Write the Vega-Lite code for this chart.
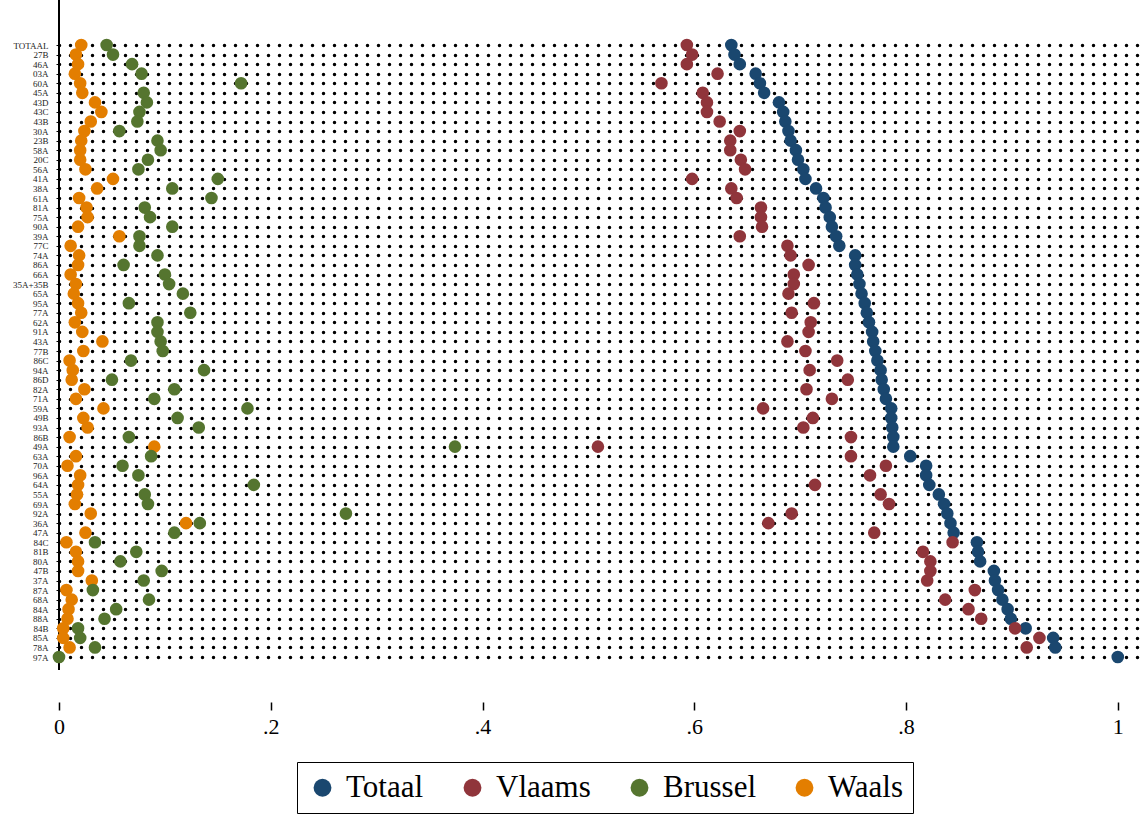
{
  "$schema": "https://vega.github.io/schema/vega-lite/v6.json",
  "autosize": "none",
  "width": 1081,
  "height": 670,
  "padding": {"left": 59, "top": 0, "right": 7, "bottom": 146},
  "background": "white",
  "config": {"view": {"stroke": null}, "font": "Liberation Serif"},
  "data": {"values": [
    {"c":"TOTAAL","Totaal":0.635,"Vlaams":0.593,"Brussel":0.045,"Waals":0.021},
    {"c":"27B","Totaal":0.638,"Vlaams":0.598,"Brussel":0.051,"Waals":0.016},
    {"c":"46A","Totaal":0.643,"Vlaams":0.593,"Brussel":0.069,"Waals":0.018},
    {"c":"03A","Totaal":0.658,"Vlaams":0.622,"Brussel":0.078,"Waals":0.015},
    {"c":"60A","Totaal":0.662,"Vlaams":0.569,"Brussel":0.172,"Waals":0.020},
    {"c":"45A","Totaal":0.666,"Vlaams":0.608,"Brussel":0.080,"Waals":0.022},
    {"c":"43D","Totaal":0.680,"Vlaams":0.612,"Brussel":0.083,"Waals":0.034},
    {"c":"43C","Totaal":0.684,"Vlaams":0.612,"Brussel":0.076,"Waals":0.040},
    {"c":"43B","Totaal":0.686,"Vlaams":0.624,"Brussel":0.074,"Waals":0.030},
    {"c":"30A","Totaal":0.689,"Vlaams":0.643,"Brussel":0.057,"Waals":0.024},
    {"c":"23B","Totaal":0.691,"Vlaams":0.634,"Brussel":0.093,"Waals":0.021},
    {"c":"58A","Totaal":0.696,"Vlaams":0.634,"Brussel":0.096,"Waals":0.020},
    {"c":"20C","Totaal":0.698,"Vlaams":0.644,"Brussel":0.084,"Waals":0.020},
    {"c":"56A","Totaal":0.703,"Vlaams":0.648,"Brussel":0.075,"Waals":0.025},
    {"c":"41A","Totaal":0.705,"Vlaams":0.598,"Brussel":0.150,"Waals":0.051},
    {"c":"38A","Totaal":0.715,"Vlaams":0.635,"Brussel":0.107,"Waals":0.036},
    {"c":"61A","Totaal":0.722,"Vlaams":0.640,"Brussel":0.144,"Waals":0.019},
    {"c":"81A","Totaal":0.724,"Vlaams":0.663,"Brussel":0.081,"Waals":0.026},
    {"c":"75A","Totaal":0.728,"Vlaams":0.663,"Brussel":0.086,"Waals":0.027},
    {"c":"90A","Totaal":0.730,"Vlaams":0.664,"Brussel":0.107,"Waals":0.018},
    {"c":"39A","Totaal":0.734,"Vlaams":0.643,"Brussel":0.076,"Waals":0.057},
    {"c":"77C","Totaal":0.737,"Vlaams":0.688,"Brussel":0.076,"Waals":0.011},
    {"c":"74A","Totaal":0.752,"Vlaams":0.691,"Brussel":0.093,"Waals":0.019},
    {"c":"86A","Totaal":0.752,"Vlaams":0.708,"Brussel":0.061,"Waals":0.018},
    {"c":"66A","Totaal":0.754,"Vlaams":0.694,"Brussel":0.100,"Waals":0.011},
    {"c":"35A+35B","Totaal":0.756,"Vlaams":0.694,"Brussel":0.104,"Waals":0.016},
    {"c":"65A","Totaal":0.758,"Vlaams":0.689,"Brussel":0.117,"Waals":0.014},
    {"c":"95A","Totaal":0.761,"Vlaams":0.713,"Brussel":0.066,"Waals":0.018},
    {"c":"77A","Totaal":0.763,"Vlaams":0.692,"Brussel":0.124,"Waals":0.021},
    {"c":"62A","Totaal":0.765,"Vlaams":0.710,"Brussel":0.093,"Waals":0.015},
    {"c":"91A","Totaal":0.768,"Vlaams":0.708,"Brussel":0.093,"Waals":0.022},
    {"c":"43A","Totaal":0.769,"Vlaams":0.688,"Brussel":0.096,"Waals":0.041},
    {"c":"77B","Totaal":0.771,"Vlaams":0.705,"Brussel":0.098,"Waals":0.023},
    {"c":"86C","Totaal":0.773,"Vlaams":0.735,"Brussel":0.068,"Waals":0.010},
    {"c":"94A","Totaal":0.776,"Vlaams":0.709,"Brussel":0.137,"Waals":0.013},
    {"c":"86D","Totaal":0.777,"Vlaams":0.745,"Brussel":0.050,"Waals":0.012},
    {"c":"82A","Totaal":0.779,"Vlaams":0.706,"Brussel":0.109,"Waals":0.024},
    {"c":"71A","Totaal":0.781,"Vlaams":0.730,"Brussel":0.090,"Waals":0.016},
    {"c":"59A","Totaal":0.786,"Vlaams":0.665,"Brussel":0.178,"Waals":0.042},
    {"c":"49B","Totaal":0.786,"Vlaams":0.712,"Brussel":0.112,"Waals":0.023},
    {"c":"93A","Totaal":0.787,"Vlaams":0.703,"Brussel":0.132,"Waals":0.027},
    {"c":"86B","Totaal":0.788,"Vlaams":0.748,"Brussel":0.066,"Waals":0.010},
    {"c":"49A","Totaal":0.788,"Vlaams":0.509,"Brussel":0.374,"Waals":0.090},
    {"c":"63A","Totaal":0.804,"Vlaams":0.748,"Brussel":0.087,"Waals":0.016},
    {"c":"70A","Totaal":0.819,"Vlaams":0.781,"Brussel":0.060,"Waals":0.008},
    {"c":"96A","Totaal":0.819,"Vlaams":0.766,"Brussel":0.075,"Waals":0.020},
    {"c":"64A","Totaal":0.822,"Vlaams":0.714,"Brussel":0.184,"Waals":0.018},
    {"c":"55A","Totaal":0.831,"Vlaams":0.776,"Brussel":0.081,"Waals":0.017},
    {"c":"69A","Totaal":0.836,"Vlaams":0.784,"Brussel":0.084,"Waals":0.015},
    {"c":"92A","Totaal":0.839,"Vlaams":0.692,"Brussel":0.271,"Waals":0.030},
    {"c":"36A","Totaal":0.842,"Vlaams":0.670,"Brussel":0.133,"Waals":0.120},
    {"c":"47A","Totaal":0.845,"Vlaams":0.770,"Brussel":0.109,"Waals":0.025},
    {"c":"84C","Totaal":0.867,"Vlaams":0.844,"Brussel":0.034,"Waals":0.007},
    {"c":"81B","Totaal":0.868,"Vlaams":0.816,"Brussel":0.073,"Waals":0.016},
    {"c":"80A","Totaal":0.870,"Vlaams":0.823,"Brussel":0.058,"Waals":0.018},
    {"c":"47B","Totaal":0.883,"Vlaams":0.823,"Brussel":0.097,"Waals":0.018},
    {"c":"37A","Totaal":0.884,"Vlaams":0.820,"Brussel":0.080,"Waals":0.031},
    {"c":"87A","Totaal":0.887,"Vlaams":0.865,"Brussel":0.032,"Waals":0.007},
    {"c":"68A","Totaal":0.891,"Vlaams":0.837,"Brussel":0.085,"Waals":0.012},
    {"c":"84A","Totaal":0.896,"Vlaams":0.859,"Brussel":0.054,"Waals":0.009},
    {"c":"88A","Totaal":0.899,"Vlaams":0.871,"Brussel":0.043,"Waals":0.008},
    {"c":"84B","Totaal":0.913,"Vlaams":0.903,"Brussel":0.018,"Waals":0.004},
    {"c":"85A","Totaal":0.939,"Vlaams":0.926,"Brussel":0.020,"Waals":0.004},
    {"c":"78A","Totaal":0.941,"Vlaams":0.914,"Brussel":0.034,"Waals":0.010},
    {"c":"97A","Totaal":1.0,"Vlaams":null,"Brussel":0.0,"Waals":null}
  ]},
  "transform": [
    {"fold": ["Totaal", "Vlaams", "Brussel", "Waals"], "as": ["reeks", "waarde"]},
    {"filter": "isValid(datum.waarde)"}
  ],
  "encoding": {
    "y": {
      "field": "c", "type": "nominal", "sort": null,
      "scale": {"type": "point", "padding": 0, "range": [45, 657]},
      "axis": {
        "title": null, "labelFont": "Liberation Serif", "labelFontSize": 9, "labelColor": "#222",
        "domain": false, "tickColor": "black", "tickSize": 3, "labelPadding": 8,
        "grid": true, "gridColor": "black", "gridDash": [0, 11], "gridCap": "round", "gridWidth": 3.5, "gridOpacity": 1
      }
    },
    "x": {
      "field": "waarde", "type": "quantitative",
      "scale": {"domain": [0, 1.021], "nice": false, "zero": true},
      "axis": {
        "title": null, "values": [0, 0.2, 0.4, 0.6, 0.8, 1],
        "labelExpr": "datum.value == 0 ? '0' : datum.value == 1 ? '1' : replace(format(datum.value, '.1f'), '0.', '.')",
        "labelFont": "Liberation Serif", "labelFontSize": 22, "labelColor": "black",
        "domain": false, "ticks": true, "tickColor": "black", "tickSize": 8, "tickWidth": 1.5, "offset": 32,
        "labelPadding": 6, "grid": false, "labelFlush": false
      }
    }
  },
  "layer": [
    {
      "mark": {"type": "rule", "color": "black", "strokeWidth": 2},
      "encoding": {"x": {"datum": 0}, "y": null}
    },
    {
      "mark": {"type": "point", "filled": true, "shape": "circle", "size": 160, "opacity": 1},
      "encoding": {
        "color": {
          "field": "reeks", "type": "nominal",
          "scale": {"domain": ["Totaal", "Vlaams", "Brussel", "Waals"], "range": ["#1a476f", "#90353b", "#55752f", "#e37e00"]},
          "legend": {
            "title": null, "orient": "none", "legendX": 238, "legendY": 762, "direction": "horizontal",
            "strokeColor": "black", "padding": 10, "symbolSize": 320, "symbolType": "circle",
            "labelFont": "Liberation Serif", "labelFontSize": 31, "labelColor": "black",
            "labelOffset": 8, "columnPadding": 33, "symbolStrokeWidth": 0, "fillColor": "white"
          }
        },
        "order": {"value": 0}
      }
    }
  ]
}
